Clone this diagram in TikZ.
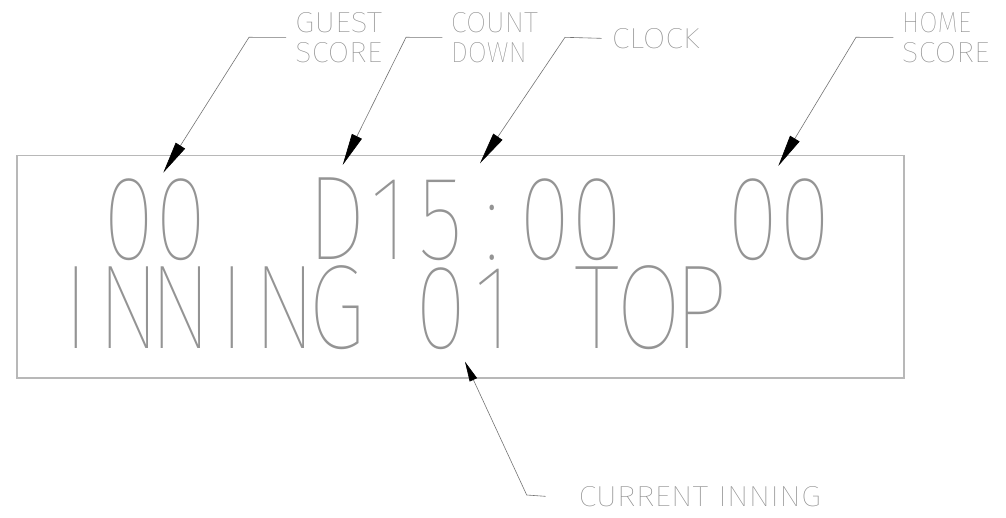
\documentclass[tikz,border=0pt]{standalone}
\usepackage{fontspec}
\usepackage{graphicx}
\usetikzlibrary{arrows.meta}
\newfontfamily\thinfont{Fira Sans}[UprightFont=* Thin]
\newcommand\bigch[1]{\makebox[52pt]{\scalebox{0.79}[1]{#1}}}
\newcommand\lblline[2]{\resizebox{#1pt}{20pt}{#2}}
\tikzset{
  frame/.style={draw=black!28, line width=1.2pt},
  bigtext/.style={inner sep=0pt, anchor=base west, text=black!42,
    text height=80pt, text depth=0pt,
    font=\fontsize{120pt}{120pt}\selectfont\thinfont},
  lbl/.style={inner sep=0pt, anchor=north west, align=left, text=black!45,
    font=\fontsize{20pt}{30pt}\selectfont\thinfont},
  leader/.style={draw=black!55, line width=0.6pt},
  bighead/.style={-{Triangle[length=32pt,width=11pt,color=black]}},
  smallhead/.style={-{Triangle[length=20pt,width=8pt,color=black]}}
}
\begin{document}
\begin{tikzpicture}[x=1pt,y=-1pt]
\useasboundingbox (0,0) rectangle (1006,518);
% display frame
\draw[frame] (17,155.3) rectangle (904,378);
% display rows
\node[bigtext] (row1) at (50.5,259.5)
  {\bigch{ }\bigch{0}\bigch{0}\bigch{ }\bigch{ }\bigch{D}\bigch{1}\bigch{5}\bigch{:}\bigch{0}\bigch{0}\bigch{ }\bigch{ }\bigch{0}\bigch{0}};
\node[bigtext] (row2) at (50.5,348.3)
  {\bigch{I}\bigch{N}\bigch{N}\bigch{I}\bigch{N}\bigch{G}\bigch{ }\bigch{0}\bigch{1}\bigch{ }\bigch{T}\bigch{O}\bigch{P}};
% labels
\node[lbl] (guest) at (295,12) {\lblline{87}{GUEST}\\\lblline{87}{SCORE}};
\node[lbl] (count) at (450.7,12) {\lblline{87}{COUNT}\\\lblline{76}{DOWN}};
\node[lbl] (clock) at (611.7,28) {\lblline{87.6}{CLOCK}};
\node[lbl] (home) at (901.7,12) {\lblline{69}{HOME}\\\lblline{87.6}{SCORE}};
\node[lbl] (inning) at (578.3,486) {\lblline{242.4}{CURRENT INNING}};
% leader points
\coordinate (gB) at (249,37.3);   \coordinate (gT) at (163.3,172.7);
\coordinate (cB) at (406,37.3);   \coordinate (cT) at (342.7,165);
\coordinate (kB) at (565,37.3);   \coordinate (kT) at (480,163.3);
\coordinate (hB) at (856,37.3);   \coordinate (hT) at (778.3,166);
\coordinate (iB) at (526.7,495);  \coordinate (iT) at (465,361.7);
% leaders
\draw[leader,bighead] ([xshift=-9pt]guest.west) -- (gB) -- (gT);
\draw[leader,bighead] ([xshift=-8.4pt]count.west) -- (cB) -- (cT);
\draw[leader,bighead] ([xshift=-10pt]clock.west) -- (kB) -- (kT);
\draw[leader,bighead] ([xshift=-8.4pt]home.west) -- (hB) -- (hT);
\draw[leader,smallhead] ([xshift=-32.6pt]inning.west) -- (iB) -- (iT);
\end{tikzpicture}
\end{document}
